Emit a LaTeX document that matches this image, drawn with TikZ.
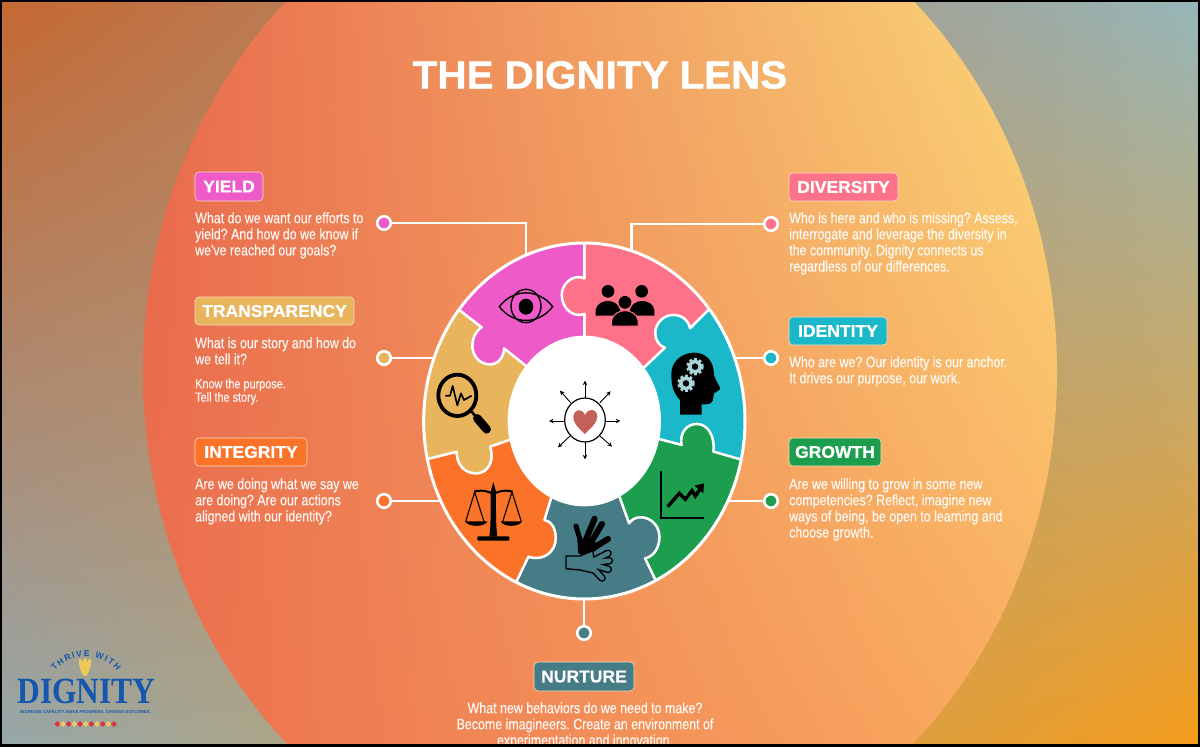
\documentclass[tikz,border=0pt]{standalone}
\usepackage{fontspec}
\usetikzlibrary{shadings,arrows.meta,decorations.text}
\setmainfont{Liberation Sans}
\newfontfamily\bodyf{Liberation Sans}[FakeStretch=0.817,FakeBold=0.3]
\newfontfamily\badgef{Liberation Sans Bold}[FakeStretch=1.03,FakeBold=0.8]
\newfontfamily\titlef{Liberation Sans Bold}[FakeStretch=1.035,FakeBold=1.2]
\newfontfamily\tagf{Liberation Sans Bold}
\newfontfamily\logof{Liberation Serif Bold}[FakeStretch=0.85]
\definecolor{cmag}{HTML}{EE5BC9}
\definecolor{cpink}{HTML}{FD7289}
\definecolor{cteal}{HTML}{1AB8C8}
\definecolor{cgreen}{HTML}{1D9E4E}
\definecolor{cslate}{HTML}{467C86}
\definecolor{corange}{HTML}{FB7329}
\definecolor{ctan}{HTML}{E8B45C}
\definecolor{clogo}{HTML}{1556AE}
\definecolor{cgold}{HTML}{EBC95C}
\definecolor{cred}{HTML}{D8344A}
\definecolor{cgear}{HTML}{A9D3D6}
\definecolor{cheart}{HTML}{C4605A}
\definecolor{cedge}{HTML}{F8DDC0}
\tikzset{
  badge/.style={rounded corners=4pt,draw=cedge,line width=.6pt,text=white,inner sep=0pt,
     font=\badgef\fontsize{17}{17}\selectfont},
  body/.style={anchor=north west,inner sep=0pt,align=left,text=white,text opacity=.92,
     font=\bodyf\frenchspacing\fontsize{15.2}{16.1}\selectfont},
  dot/.style={circle,draw=white,line width=2.6pt,minimum size=13.5pt,inner sep=0pt},
  link/.style={draw=white,line width=2.2pt},
  piece/.style={draw=white,line width=2.4pt,line join=round},
}
\begin{document}
\begin{tikzpicture}[x=1pt,y=-1pt]
\useasboundingbox (0,0) rectangle (1200,747);
\begin{scope}
\clip (0,0) rectangle (1200,747);
\shade[upper left={rgb,255:red,198;green,104;blue,50},upper right={rgb,255:red,150;green,182;blue,185},
       lower left={rgb,255:red,150;green,168;blue,170},lower right={rgb,255:red,245;green,156;blue,28}] (0,0) rectangle (1200,747);
\shade[upper left={rgb,255:red,232;green,104;blue,76},upper right={rgb,255:red,250;green,224;blue,125},
       lower left={rgb,255:red,236;green,112;blue,78},lower right={rgb,255:red,250;green,165;blue,92}] (600,372) ellipse [x radius=457,y radius=510];
\end{scope}

% ---- title
\node[font=\titlef\fontsize{39}{39}\selectfont,text=white,inner sep=0pt] (title) at (600,75) {THE DIGNITY LENS};

% ---- dots
\node[dot,fill=cmag]    (dy) at (384,223) {};
\node[dot,fill=ctan]    (dt) at (384,358) {};
\node[dot,fill=corange] (di) at (384,501) {};
\node[dot,fill=cpink]   (dd) at (771,224) {};
\node[dot,fill=cteal]   (dn) at (771,358) {};
\node[dot,fill=cgreen]  (dg) at (771,501) {};
\node[dot,fill=cslate]  (du) at (584,633) {};
\coordinate (ry) at (526,256);
\coordinate (rt) at (434,358);
\coordinate (ri) at (442,501);
\coordinate (rd) at (631.5,252);
\coordinate (rn) at (735,358);
\coordinate (rg) at (725,501);
\coordinate (ru) at (584,598);
\draw[link] (dy) -| (ry);
\draw[link] (dt) -- (rt);
\draw[link] (di) -- (ri);
\draw[link] (dd) -| (rd);
\draw[link] (dn) -- (rn);
\draw[link] (dg) -- (rg);
\draw[link] (du) -- (ru);

% ---- ring, traced in 3x coordinates
\begin{scope}[shift={(400,220)},x=0.33333pt,y=-0.33333pt]
\begin{scope}
\clip (553,603) ellipse [x radius=482,y radius=534];
\fill[cmag] (553,603) ellipse [x radius=482,y radius=534];
\path[piece,fill=cpink] (553,603) -- (553,282) .. controls (520,295) and (485,265) .. (485,225) .. controls (485,190) and (520,160) .. (553,175) -- (553,40) -- (960,40) -- (950,245) -- (870,325) .. controls (865,300) and (845,285) .. (820,285) .. controls (790,285) and (766,310) .. (766,340) .. controls (766,360) and (778,378) .. (795,383) -- (735,440) -- cycle;
\path[piece,fill=cteal] (553,603) -- (735,440) -- (795,383) .. controls (778,378) and (766,360) .. (766,340) .. controls (766,310) and (790,285) .. (820,285) .. controls (845,285) and (865,300) .. (870,325) -- (950,245) -- (1100,245) -- (1080,735) -- (940,695) .. controls (945,650) and (925,612) .. (890,612) .. controls (860,612) and (838,640) .. (845,675) -- (780,658) -- cycle;
\path[piece,fill=cgreen] (553,603) -- (780,658) -- (845,675) .. controls (838,640) and (860,612) .. (890,612) .. controls (925,612) and (945,650) .. (940,695) -- (1080,735) -- (1100,1200) -- (790,1130) -- (735,1015) .. controls (760,1010) and (778,985) .. (778,950) .. controls (778,915) and (750,892) .. (722,892) .. controls (705,892) and (695,900) .. (687,910) -- (660,835) -- cycle;
\path[piece,fill=cslate] (553,603) -- (660,835) -- (687,910) .. controls (695,900) and (705,892) .. (722,892) .. controls (750,892) and (778,915) .. (778,950) .. controls (778,985) and (760,1010) .. (735,1015) -- (790,1130) -- (790,1200) -- (330,1200) -- (330,1125) -- (385,1010) .. controls (430,1025) and (467,995) .. (467,955) .. controls (467,920) and (450,903) .. (433,900) -- (452,838) -- cycle;
\path[piece,fill=corange] (553,603) -- (452,838) -- (433,900) .. controls (450,903) and (467,920) .. (467,955) .. controls (467,995) and (430,1025) .. (385,1010) -- (330,1125) -- (0,1200) -- (30,730) -- (170,695) .. controls (170,735) and (195,760) .. (228,760) .. controls (262,760) and (285,725) .. (270,680) -- (328,660) -- cycle;
\path[piece,fill=ctan] (553,603) -- (328,660) -- (270,680) .. controls (285,725) and (262,760) .. (228,760) .. controls (195,760) and (170,735) .. (170,695) -- (30,730) -- (0,240) -- (140,240) -- (245,322) .. controls (225,335) and (215,360) .. (218,385) .. controls (222,415) and (245,433) .. (270,433) .. controls (295,433) and (312,410) .. (312,385) -- (375,435) -- cycle;
\path[piece,fill=cmag] (553,603) -- (375,435) -- (312,385) .. controls (312,410) and (295,433) .. (270,433) .. controls (245,433) and (222,415) .. (218,385) .. controls (215,360) and (225,335) .. (245,322) -- (140,240) -- (140,40) -- (553,40) -- (553,175) .. controls (520,160) and (485,190) .. (485,225) .. controls (485,265) and (520,295) .. (553,282) -- cycle;
\end{scope}
\draw[white,line width=3pt] (553,603) ellipse [x radius=482,y radius=534];
\fill[white] (553,603) ellipse [x radius=230,y radius=256];

% heart icon
\draw[black,line width=1.2pt] (555,600) ellipse [x radius=61,y radius=66];
\fill[cheart] (555,642) .. controls (530,620) and (518,605) .. (520,590) .. controls (522,568) and (545,562) .. (555,585) .. controls (565,562) and (592,565) .. (592,590) .. controls (592,610) and (570,625) .. (555,642) -- cycle;
\begin{scope}[-{Stealth[length=4.5pt,width=4.5pt]},black,line width=.9pt]
\draw (555,533) -- (555,482);
\draw (555,667) -- (555,718);
\draw (493,603) -- (447,603);
\draw (617,603) -- (661,603);
\draw (600,548) -- (632,514);
\draw (512,548) -- (480,512);
\draw (600,648) -- (636,680);
\draw (510,648) -- (474,682);
\end{scope}

% eye
\draw[black,line width=1.4pt] (298,260) .. controls (340,205) and (416,205) .. (458,260) .. controls (416,315) and (340,315) .. (298,260) -- cycle;
\draw[black,line width=1.4pt] (378,258) ellipse [x radius=45,y radius=50];
\fill[black] (378,260) ellipse [x radius=22,y radius=24];

% people
\fill[black] (624,214) circle [radius=19];
\fill[black] (725,214) circle [radius=19];
\fill[black] (587,287) -- (587,270) .. controls (590,250) and (610,243) .. (624,243) .. controls (640,243) and (660,250) .. (664,287) -- cycle;
\fill[black] (686,287) .. controls (690,250) and (710,243) .. (725,243) .. controls (742,243) and (760,250) .. (763,270) -- (763,287) -- cycle;
\draw[cpink,line width=1pt,fill=black] (675,247) circle [radius=21];
\draw[cpink,line width=1pt,fill=black] (635,318) -- (635,300) .. controls (640,280) and (660,272) .. (675,272) .. controls (690,272) and (710,280) .. (714,300) -- (714,318) -- cycle;

% head with gears
\fill[black] (840,584) -- (840,540) .. controls (815,515) and (812,480) .. (815,450) .. controls (822,415) and (855,398) .. (882,398) .. controls (920,398) and (942,425) .. (942,465) .. controls (945,480) and (962,500) .. (960,508) .. controls (955,515) and (945,515) .. (942,520) .. controls (945,530) and (935,535) .. (938,542) .. controls (935,555) and (915,553) .. (905,553) -- (905,584) -- cycle;
\foreach \gx/\gy in {885/440,858/490}{
  \draw[cgear,line width=2.2pt,dash pattern=on 2.8pt off 2.2pt] (\gx,\gy) circle [radius=23];
  \draw[cgear,line width=3.6pt,fill=black] (\gx,\gy) circle [radius=16];
}

% chart
\draw[black,line width=2.2pt,line join=miter] (784,752) -- (784,893) -- (911,893);
\draw[black,line width=3.4pt] (803,860) -- (838,820) -- (856,838) -- (876,812) -- (886,828) -- (904,802);
\fill[black] (884,797) -- (912,790) -- (910,820) -- cycle;

% scales
\fill[black,rounded corners=1pt] (232,949) rectangle (328,962);
\fill[black] (268,950) .. controls (273,920) and (272,850) .. (272,815) -- (280,786) -- (288,815) .. controls (288,850) and (287,920) .. (292,950) -- cycle;
\draw[black,line width=2pt] (222,815) .. controls (250,808) and (265,815) .. (280,822) .. controls (295,815) and (310,808) .. (338,815);
\draw[black,line width=1.1pt,line join=round] (197,905) -- (224,816) -- (252,905);
\draw[black,line width=1.1pt,line join=round] (308,905) -- (336,816) -- (364,905);
\fill[black] (195,904) -- (262,904) .. controls (255,922) and (205,922) .. (195,904) -- cycle;
\fill[black] (302,904) -- (366,904) .. controls (358,922) and (310,922) .. (302,904) -- cycle;

% hands
\begin{scope}[line cap=round]
\draw[black,line width=5pt] (545,975) -- (528,918);
\draw[black,line width=6pt] (555,965) -- (584,896);
\draw[black,line width=6pt] (568,975) -- (606,912);
\draw[black,line width=6pt] (578,985) -- (624,957);
\fill[black] (532,960) -- (580,955) -- (596,985) -- (560,1010) -- (535,1000) -- cycle;
\foreach \ex/\ey in {624/1000,628/1022,625/1048,606/1074}{
  \draw[black,line width=7.6pt] (565,1030) -- (\ex,\ey);}
\draw[black,line width=1.4pt,fill=cslate,line join=round] (498,1008) -- (540,1008) -- (578,992) -- (592,1062) -- (540,1050) -- (498,1046) -- cycle;
\foreach \ex/\ey in {624/1000,628/1022,625/1048,606/1074}{
  \draw[cslate,line width=4.6pt] (565,1030) -- (\ex,\ey);}
\end{scope}

% magnifier
\draw[black,line width=3.8pt] (172,526) ellipse [x radius=57,y radius=62];
\draw[black,line width=2.6pt] (215,575) -- (232,595);
\draw[black,line width=8.5pt,line cap=round] (232,595) -- (260,628);
\draw[black,line width=1.7pt,line join=round] (136,527) -- (150,527) -- (158,498) -- (172,556) -- (183,520) -- (192,540) -- (215,527);
\end{scope}

% ---- badges and texts
\node[badge,fill=cmag,minimum width=68pt,minimum height=29pt] (byield) at (229,186.5) {YIELD};
\node[body] (tyield) at (195,212) {What do we want our efforts to\\yield? And how do we know if\\we've reached our goals?};
\node[badge,fill=ctan,minimum width=159pt,minimum height=28pt] (btrans) at (274.5,311) {TRANSPARENCY};
\node[body] (ttrans) at (195,337) {What is our story and how do\\we tell it?};
\node[body,font=\bodyf\frenchspacing\fontsize{13.3}{13.4}\selectfont] (tknow) at (195,378.5) {Know the purpose.\\Tell the story.};
\node[badge,fill=corange,minimum width=112pt,minimum height=28pt] (binteg) at (251,452) {INTEGRITY};
\node[body] (tinteg) at (195,478) {Are we doing what we say we\\are doing? Are our actions\\aligned with our identity?};
\node[badge,fill=cpink,minimum width=109pt,minimum height=28pt] (bdiv) at (843.5,187) {DIVERSITY};
\node[body] (tdiv) at (789,212) {Who is here and who is missing? Assess,\\interrogate and leverage the diversity in\\the community. Dignity connects us\\regardless of our differences.};
\node[badge,fill=cteal,minimum width=98pt,minimum height=28pt] (bident) at (838,331) {IDENTITY};
\node[body] (tident) at (789,356) {Who are we? Our identity is our anchor.\\It drives our purpose, our work.};
\node[badge,fill=cgreen,minimum width=92pt,minimum height=28pt] (bgrow) at (835,452) {GROWTH};
\node[body] (tgrow) at (789,478) {Are we willing to grow in some new\\competencies? Reflect, imagine new\\ways of being, be open to learning and\\choose growth.};
\node[badge,fill=cslate,minimum width=100pt,minimum height=29pt] (bnurt) at (584,676.5) {NURTURE};
\node[body,anchor=north,align=center] (tnurt) at (585,702) {What new behaviors do we need to make?\\Become imagineers. Create an environment of\\experimentation and innovation.};

% ---- logo
\path[decorate,decoration={text along path,text align={fit to path},
   text={|\tagf\fontsize{8.6}{9}\selectfont\color{clogo}|THRIVE WITH}}]
   (55,671) .. controls (70,652) and (102,652) .. (117,671);
\foreach \r in {-16,0,16}{\fill[cgold,rotate around={\r:(85,677)}] (85,667) ellipse [x radius=2.4,y radius=9];}
\node[inner sep=0pt,font=\logof\fontsize{37}{37}\selectfont,text=clogo] (logo) at (86.5,691) {DIGNITY};
\node[inner sep=0pt,font=\tagf\fontsize{4.2}{5}\selectfont,text=clogo] (tag) at (85.5,712) {INCREASE CAPACITY. MAKE PROGRESS. CHANGE OUTCOMES.};
\foreach \x/\c in {57.3/cred,63/cgold,68.7/cred,74.4/cgold,80/cred,85.7/cgold,91.4/cred,97/cgold,102.7/cred,108.4/cgold,114/cred}{
  \fill[\c] (\x,721) -- (\x+3,724) -- (\x,727) -- (\x-3,724) -- cycle;}

% ---- frame
\fill[black] (0,744) rectangle (1200,747);
\draw[black,line width=2pt] (1,1) rectangle (1199,746);
\end{tikzpicture}
\end{document}
